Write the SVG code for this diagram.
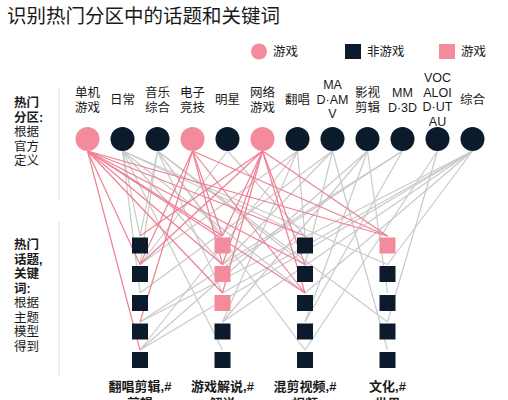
<svg xmlns="http://www.w3.org/2000/svg" width="508" height="400" viewBox="0 0 508 400">
<style>
text{font-family:"Liberation Sans","Noto Sans CJK SC",sans-serif;fill:#1a1a1a}
.title{font-size:19.5px}
.lg{font-size:12.5px}
.cat{font-size:12.5px;text-anchor:middle}
.side{font-size:12.5px}
.b{font-weight:bold}
.bot{font-size:13px;font-weight:bold;text-anchor:middle}
.g line{stroke:#c9c9c9;stroke-width:1.2}
.p line{stroke:#f07f93;stroke-width:1.2}
.pk{fill:#f48b9c}
.dk{fill:#0b1b2b}
.div{stroke:#e3e3e3;stroke-width:1.2}
</style>
<rect width="508" height="400" fill="#fff"/>
<text class="title" x="7" y="23">识别热门分区中的话题和关键词</text>
<g id="legend">
<circle class="pk" cx="259" cy="51.5" r="8"/>
<text class="lg" x="273" y="56">游戏</text>
<rect class="dk" x="345" y="44" width="16" height="15"/>
<text class="lg" x="367" y="56">非游戏</text>
<rect class="pk" x="439" y="44" width="16" height="15"/>
<text class="lg" x="461" y="56">游戏</text>
</g>
<g id="side-labels">
<text class="side"><tspan class="b" x="14" y="107">热门</tspan><tspan class="b" x="14" y="121.5">分区:</tspan><tspan x="14" y="136">根据</tspan><tspan x="14" y="150.5">官方</tspan><tspan x="14" y="165">定义</tspan></text>
<text class="side"><tspan class="b" x="14" y="249">热门</tspan><tspan class="b" x="14" y="263.5">话题,</tspan><tspan class="b" x="14" y="278">关键</tspan><tspan class="b" x="14" y="292.5">词:</tspan><tspan x="14" y="307">根据</tspan><tspan x="14" y="321.5">主题</tspan><tspan x="14" y="336">模型</tspan><tspan x="14" y="350.5">得到</tspan></text>
<line class="div" x1="59" y1="88" x2="59" y2="200"/>
<line class="div" x1="59" y1="222" x2="59" y2="376"/>
</g>
<g id="connectors">
<g class="g">
<line x1="122.5" y1="151" x2="140" y2="236"/>
<line x1="122.5" y1="151" x2="140" y2="293"/>
<line x1="122.5" y1="151" x2="222.5" y2="264.5"/>
<line x1="122.5" y1="151" x2="305" y2="236"/>
<line x1="122.5" y1="151" x2="305" y2="293"/>
<line x1="122.5" y1="151" x2="387.5" y2="264.5"/>
<line x1="122.5" y1="151" x2="222.5" y2="350"/>
<line x1="157.5" y1="151" x2="140" y2="236"/>
<line x1="157.5" y1="151" x2="140" y2="264.5"/>
<line x1="157.5" y1="151" x2="222.5" y2="236"/>
<line x1="157.5" y1="151" x2="222.5" y2="293"/>
<line x1="157.5" y1="151" x2="305" y2="264.5"/>
<line x1="157.5" y1="151" x2="387.5" y2="322"/>
<line x1="157.5" y1="151" x2="305" y2="350"/>
<line x1="227.5" y1="151" x2="140" y2="264.5"/>
<line x1="227.5" y1="151" x2="305" y2="236"/>
<line x1="297.5" y1="151" x2="140" y2="264.5"/>
<line x1="297.5" y1="151" x2="222.5" y2="322"/>
<line x1="297.5" y1="151" x2="305" y2="236"/>
<line x1="297.5" y1="151" x2="140" y2="350"/>
<line x1="332.5" y1="151" x2="140" y2="293"/>
<line x1="332.5" y1="151" x2="222.5" y2="264.5"/>
<line x1="332.5" y1="151" x2="305" y2="264.5"/>
<line x1="332.5" y1="151" x2="387.5" y2="350"/>
<line x1="367.5" y1="151" x2="387.5" y2="293"/>
<line x1="367.5" y1="151" x2="222.5" y2="322"/>
<line x1="367.5" y1="151" x2="305" y2="322"/>
<line x1="367.5" y1="151" x2="140" y2="350"/>
<line x1="402.5" y1="151" x2="305" y2="322"/>
<line x1="402.5" y1="151" x2="140" y2="322"/>
<line x1="402.5" y1="151" x2="222.5" y2="264.5"/>
<line x1="437.5" y1="151" x2="387.5" y2="322"/>
<line x1="437.5" y1="151" x2="305" y2="350"/>
<line x1="472.5" y1="151" x2="140" y2="350"/>
<line x1="472.5" y1="151" x2="222.5" y2="293"/>
<line x1="472.5" y1="151" x2="305" y2="293"/>
<line x1="472.5" y1="151" x2="222.5" y2="322"/>
<line x1="472.5" y1="151" x2="140" y2="322"/>
<line x1="472.5" y1="151" x2="387.5" y2="264.5"/>
</g>
<g class="p">
<line x1="87.5" y1="151" x2="140" y2="264.5"/>
<line x1="87.5" y1="151" x2="140" y2="350"/>
<line x1="87.5" y1="151" x2="222.5" y2="236"/>
<line x1="87.5" y1="151" x2="222.5" y2="264.5"/>
<line x1="87.5" y1="151" x2="222.5" y2="293"/>
<line x1="87.5" y1="151" x2="305" y2="264.5"/>
<line x1="87.5" y1="151" x2="305" y2="293"/>
<line x1="87.5" y1="151" x2="387.5" y2="236"/>
<line x1="87.5" y1="151" x2="305" y2="236"/>
<line x1="192.5" y1="151" x2="140" y2="264.5"/>
<line x1="192.5" y1="151" x2="140" y2="322"/>
<line x1="192.5" y1="151" x2="222.5" y2="236"/>
<line x1="192.5" y1="151" x2="222.5" y2="264.5"/>
<line x1="192.5" y1="151" x2="305" y2="293"/>
<line x1="192.5" y1="151" x2="387.5" y2="236"/>
<line x1="262.5" y1="151" x2="140" y2="236"/>
<line x1="262.5" y1="151" x2="140" y2="264.5"/>
<line x1="262.5" y1="151" x2="222.5" y2="236"/>
<line x1="262.5" y1="151" x2="222.5" y2="264.5"/>
<line x1="262.5" y1="151" x2="222.5" y2="293"/>
<line x1="262.5" y1="151" x2="305" y2="264.5"/>
<line x1="262.5" y1="151" x2="305" y2="293"/>
<line x1="262.5" y1="151" x2="387.5" y2="236"/>
</g>
</g>
<g id="sections">
<g id="s1"><circle class="pk" cx="87.5" cy="139" r="12"/><text class="cat"><tspan x="87.5" y="97">单机</tspan><tspan x="87.5" y="111.5">游戏</tspan></text></g>
<g id="s2"><circle class="dk" cx="122.5" cy="139" r="12"/><text class="cat" x="122.5" y="104">日常</text></g>
<g id="s3"><circle class="dk" cx="157.5" cy="139" r="12"/><text class="cat"><tspan x="157.5" y="97">音乐</tspan><tspan x="157.5" y="111.5">综合</tspan></text></g>
<g id="s4"><circle class="pk" cx="192.5" cy="139" r="12"/><text class="cat"><tspan x="192.5" y="97">电子</tspan><tspan x="192.5" y="111.5">竞技</tspan></text></g>
<g id="s5"><circle class="dk" cx="227.5" cy="139" r="12"/><text class="cat" x="227.5" y="104">明星</text></g>
<g id="s6"><circle class="pk" cx="262.5" cy="139" r="12"/><text class="cat"><tspan x="262.5" y="97">网络</tspan><tspan x="262.5" y="111.5">游戏</tspan></text></g>
<g id="s7"><circle class="dk" cx="297.5" cy="139" r="12"/><text class="cat" x="297.5" y="104">翻唱</text></g>
<g id="s8"><circle class="dk" cx="332.5" cy="139" r="12"/><text class="cat"><tspan x="332.5" y="89">MA</tspan><tspan x="332.5" y="103.5">D·AM</tspan><tspan x="332.5" y="118">V</tspan></text></g>
<g id="s9"><circle class="dk" cx="367.5" cy="139" r="12"/><text class="cat"><tspan x="367.5" y="97">影视</tspan><tspan x="367.5" y="111.5">剪辑</tspan></text></g>
<g id="s10"><circle class="dk" cx="402.5" cy="139" r="12"/><text class="cat"><tspan x="402.5" y="97">MM</tspan><tspan x="402.5" y="111.5">D·3D</tspan></text></g>
<g id="s11"><circle class="dk" cx="437.5" cy="139" r="12"/><text class="cat"><tspan x="437.5" y="82">VOC</tspan><tspan x="437.5" y="96.5">ALOI</tspan><tspan x="437.5" y="111">D·UT</tspan><tspan x="437.5" y="125.5">AU</tspan></text></g>
<g id="s12"><circle class="dk" cx="472.5" cy="139" r="12"/><text class="cat" x="472.5" y="104">综合</text></g>
</g>
<g id="topics">
<g id="t1">
<rect class="dk" x="132" y="237.5" width="16" height="16"/>
<rect class="dk" x="132" y="266" width="16" height="16"/>
<rect class="dk" x="132" y="295" width="16" height="16"/>
<rect class="dk" x="132" y="323.5" width="16" height="16"/>
<rect class="dk" x="132" y="352" width="16" height="16"/>
<text class="bot"><tspan x="140" y="391">翻唱剪辑,#</tspan><tspan x="140" y="408">剪辑</tspan></text>
</g>
<g id="t2">
<rect class="pk" x="214.5" y="237.5" width="16" height="16"/>
<rect class="pk" x="214.5" y="266" width="16" height="16"/>
<rect class="pk" x="214.5" y="295" width="16" height="16"/>
<rect class="dk" x="214.5" y="323.5" width="16" height="16"/>
<rect class="dk" x="214.5" y="352" width="16" height="16"/>
<text class="bot"><tspan x="222.5" y="391">游戏解说,#</tspan><tspan x="222.5" y="408">解说</tspan></text>
</g>
<g id="t3">
<rect class="dk" x="297" y="237.5" width="16" height="16"/>
<rect class="dk" x="297" y="266" width="16" height="16"/>
<rect class="dk" x="297" y="295" width="16" height="16"/>
<rect class="dk" x="297" y="323.5" width="16" height="16"/>
<rect class="dk" x="297" y="352" width="16" height="16"/>
<text class="bot"><tspan x="305" y="391">混剪视频,#</tspan><tspan x="305" y="408">视频</tspan></text>
</g>
<g id="t4">
<rect class="pk" x="379.5" y="237.5" width="16" height="16"/>
<rect class="dk" x="379.5" y="266" width="16" height="16"/>
<rect class="dk" x="379.5" y="295" width="16" height="16"/>
<rect class="dk" x="379.5" y="323.5" width="16" height="16"/>
<rect class="dk" x="379.5" y="352" width="16" height="16"/>
<text class="bot"><tspan x="387.5" y="391">文化,#</tspan><tspan x="387.5" y="408">世界</tspan></text>
</g>
</g>
</svg>
